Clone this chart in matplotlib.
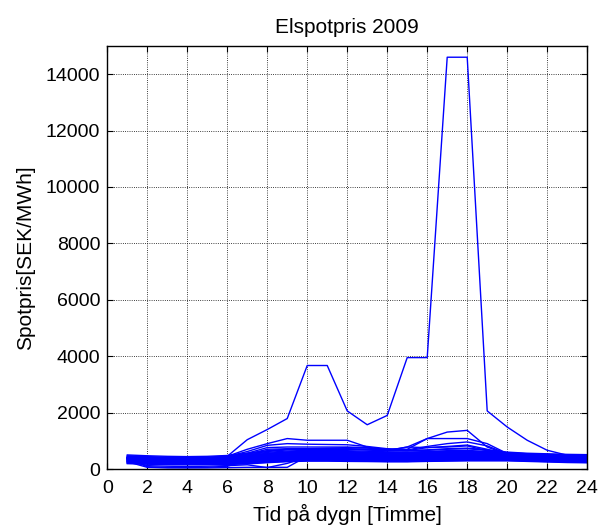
import matplotlib
matplotlib.use("Agg")
import matplotlib.pyplot as plt
import numpy as np

plt.rcParams['font.family'] = ['Liberation Sans', 'DejaVu Sans']

hours = list(range(1, 25))

# Extreme price day (spike)
spike_day = [350, 330, 320, 315, 330, 450, 1040, 1400, 1790, 3670, 3670, 2060,
             1570, 1900, 3950, 3950, 14600, 14600, 2060, 1490, 1020, 665, 490, 420]

# Days with elevated daytime prices
high_day_a = [380, 350, 340, 340, 360, 450, 700, 900, 1080, 1020, 1020, 1020,
              780, 650, 780, 1080, 1310, 1370, 780, 520, 460, 420, 400, 380]
high_day_b = [420, 390, 380, 380, 390, 440, 620, 840, 900, 880, 870, 860,
              800, 720, 700, 1080, 1080, 1080, 900, 550, 480, 450, 430, 410]
high_day_c = [400, 370, 360, 355, 365, 420, 560, 760, 780, 780, 780, 780,
              760, 700, 680, 800, 900, 960, 820, 540, 470, 440, 420, 400]
high_day_d = [390, 360, 350, 345, 350, 400, 520, 700, 720, 720, 740, 760,
              740, 690, 650, 760, 800, 850, 700, 520, 460, 430, 410, 390]
high_day_e = [370, 345, 335, 330, 340, 380, 480, 640, 700, 700, 700, 720,
              700, 660, 780, 760, 780, 820, 650, 500, 450, 420, 400, 380]

# Days with very low night/morning prices
low_day_a = [260, 60, 40, 40, 40, 50, 60, 60, 60, 450, 480, 480,
             460, 440, 430, 440, 460, 470, 440, 400, 380, 360, 340, 320]
low_day_b = [300, 120, 100, 90, 100, 120, 150, 50, 200, 420, 430, 440,
             420, 410, 400, 410, 430, 440, 420, 390, 370, 350, 330, 310]
low_day_c = [380, 80, 60, 55, 60, 100, 300, 400, 450, 470, 480, 470,
             450, 440, 430, 450, 470, 480, 450, 410, 390, 370, 350, 330]

# Typical days forming the dense band
band_days = [
    [500, 470, 450, 440, 450, 480, 560, 650, 700, 720, 720, 710, 690, 670, 660, 680, 720, 740, 680, 600, 560, 540, 520, 510],
    [470, 440, 420, 410, 420, 460, 540, 620, 680, 700, 700, 690, 670, 650, 640, 660, 700, 720, 660, 580, 540, 520, 500, 490],
    [450, 420, 400, 395, 400, 430, 500, 590, 640, 660, 660, 650, 630, 610, 600, 620, 650, 660, 620, 560, 520, 500, 480, 470],
    [430, 400, 385, 380, 385, 410, 480, 560, 610, 630, 630, 620, 600, 590, 580, 600, 630, 640, 600, 540, 500, 480, 460, 450],
    [410, 385, 370, 365, 370, 395, 460, 540, 590, 610, 610, 600, 580, 570, 560, 580, 610, 620, 580, 520, 480, 460, 440, 430],
    [400, 375, 360, 355, 360, 385, 440, 520, 570, 590, 590, 580, 560, 550, 540, 560, 590, 600, 560, 500, 465, 445, 425, 415],
    [390, 365, 350, 345, 350, 375, 420, 500, 550, 570, 570, 560, 540, 530, 520, 540, 570, 580, 540, 490, 455, 435, 415, 405],
    [380, 355, 340, 335, 340, 360, 400, 480, 530, 550, 550, 540, 520, 510, 500, 520, 550, 560, 520, 475, 445, 425, 405, 395],
    [370, 345, 330, 325, 330, 350, 385, 460, 510, 530, 530, 520, 500, 490, 480, 500, 530, 540, 500, 460, 435, 415, 395, 385],
    [360, 335, 320, 315, 320, 340, 370, 440, 490, 510, 510, 500, 480, 470, 460, 480, 510, 520, 480, 450, 425, 405, 385, 375],
    [350, 325, 310, 305, 310, 330, 355, 420, 470, 490, 490, 480, 460, 450, 440, 460, 490, 500, 460, 440, 415, 395, 375, 365],
    [340, 315, 300, 295, 300, 315, 340, 400, 450, 470, 470, 460, 440, 430, 420, 440, 470, 480, 445, 430, 405, 385, 365, 355],
    [330, 305, 290, 285, 290, 305, 325, 380, 430, 450, 450, 440, 420, 410, 400, 420, 450, 460, 430, 420, 395, 375, 355, 345],
    [320, 295, 280, 275, 280, 295, 310, 360, 410, 430, 430, 420, 400, 390, 385, 400, 430, 440, 415, 410, 385, 365, 345, 335],
    [305, 285, 270, 265, 270, 280, 295, 340, 390, 410, 410, 400, 385, 375, 370, 385, 410, 420, 400, 395, 375, 355, 335, 325],
    [290, 270, 255, 250, 255, 265, 280, 320, 370, 390, 390, 380, 370, 360, 355, 370, 390, 400, 385, 380, 360, 340, 320, 310],
    [275, 255, 240, 235, 240, 250, 265, 300, 350, 370, 370, 360, 350, 340, 335, 350, 370, 380, 370, 365, 345, 325, 305, 295],
    [260, 240, 225, 220, 225, 235, 250, 285, 330, 350, 350, 340, 330, 320, 315, 330, 350, 360, 355, 350, 330, 310, 290, 280],
    [245, 225, 210, 205, 210, 220, 235, 270, 310, 330, 330, 320, 310, 300, 300, 315, 330, 340, 340, 335, 315, 295, 275, 265],
    [230, 210, 195, 190, 195, 205, 220, 255, 290, 310, 310, 300, 295, 285, 285, 300, 310, 320, 320, 320, 300, 280, 260, 250],
    [210, 190, 175, 170, 175, 185, 200, 240, 275, 295, 295, 285, 280, 270, 270, 285, 295, 305, 305, 305, 285, 265, 245, 235],
    [190, 170, 155, 150, 155, 165, 180, 225, 260, 280, 280, 270, 265, 255, 255, 270, 280, 290, 290, 290, 270, 250, 230, 220],
]

x_ticks = list(range(0, 25, 2))
y_ticks = list(range(0, 15000, 2000))

fig = plt.figure(figsize=(6.01, 5.28), dpi=100)
ax = fig.add_axes([0.1785, 0.1117, 0.7985, 0.8013])

blue = (0, 0, 1)
for day in band_days:
    ax.plot(hours, day, color=blue, lw=1.0)
for day in [low_day_a, low_day_b, low_day_c]:
    ax.plot(hours, day, color=blue, lw=1.0)
for day in [high_day_a, high_day_b, high_day_c, high_day_d, high_day_e]:
    ax.plot(hours, day, color=blue, lw=1.0)
ax.plot(hours, spike_day, color=blue, lw=1.0)

ax.set_xlim(0, 24)
ax.set_ylim(0, 15000)
ax.set_xticks(x_ticks)
ax.set_yticks(y_ticks)
ax.grid(True, color='black', linestyle=':', linewidth=0.6)
ax.tick_params(direction='in', top=True, right=True, length=4, width=0.8,
               labelsize=14, colors='black')
ax.tick_params(axis='x', pad=8)
ax.tick_params(axis='y', pad=5)
for s in ax.spines.values():
    s.set_linewidth(1.0)
    s.set_color('black')

ax.set_title('Elspotpris 2009', fontsize=15, pad=9)
ax.set_xlabel('Tid på dygn [Timme]', fontsize=15, labelpad=5)
ax.set_ylabel('Spotpris[SEK/MWh]', fontsize=15, labelpad=8)

fig.savefig('out.png', dpi=100)
